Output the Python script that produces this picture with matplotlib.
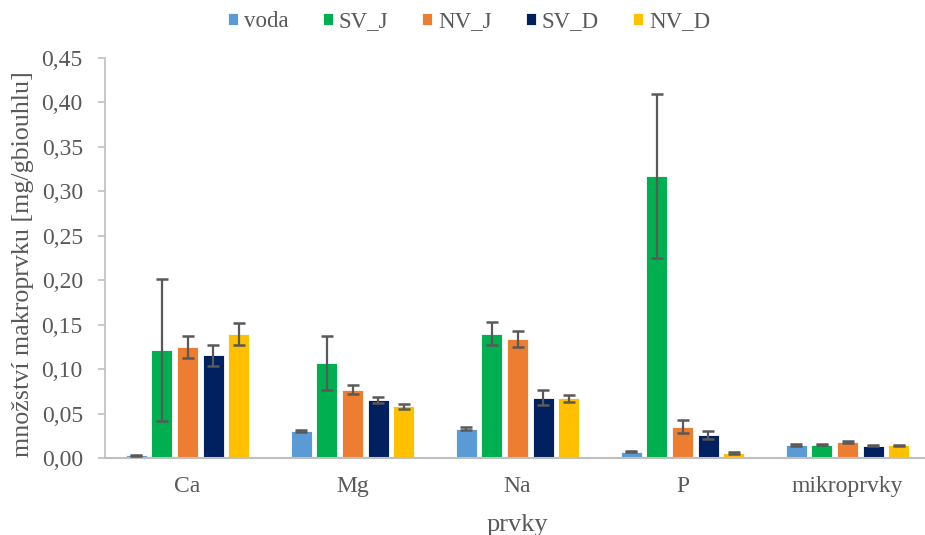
import numpy as np
import matplotlib.pyplot as plt

plt.rcParams['font.family'] = ['Liberation Serif', 'DejaVu Serif']

# data
prvky = ['Ca', 'Mg', 'Na', 'P', 'mikroprvky']
serie = ['voda', 'SV_J', 'NV_J', 'SV_D', 'NV_D']
barvy = ['#5B9BD5', '#00B050', '#ED7D31', '#002060', '#FFC000']

voda = [0.003, 0.0307, 0.033, 0.0071, 0.0146]
sv_j = [0.1215, 0.107, 0.140, 0.317, 0.0150]
nv_j = [0.1245, 0.0769, 0.134, 0.0352, 0.0180]
sv_d = [0.1155, 0.0649, 0.068, 0.0259, 0.0138]
nv_d = [0.1395, 0.0581, 0.067, 0.0056, 0.0143]

err_voda = [0.0006, 0.0010, 0.0020, 0.0008, 0.0006]
err_sv_j = [0.0800, 0.0300, 0.0130, 0.0920, 0.0006]
err_nv_j = [0.0122, 0.0049, 0.0090, 0.0075, 0.0007]
err_sv_d = [0.0116, 0.0034, 0.0080, 0.0041, 0.0006]
err_nv_d = [0.0127, 0.0030, 0.0040, 0.0006, 0.0006]

hodnoty = [voda, sv_j, nv_j, sv_d, nv_d]
chyby = [err_voda, err_sv_j, err_nv_j, err_sv_d, err_nv_d]

fig = plt.figure(figsize=(9.25, 5.35), dpi=100)
ax = fig.add_axes([105/925, 1-458/535, 825/925, 400/535])

x = np.arange(len(prvky))
krok = 0.155
sirka = 0.128
for i in range(len(serie)):
    pos = x + (i - 2) * krok
    ax.bar(pos, hodnoty[i], sirka, color=barvy[i], edgecolor='white', linewidth=0.6,
           label=serie[i], zorder=2)
    ax.errorbar(pos, hodnoty[i], yerr=chyby[i], fmt='none', ecolor='#595959',
                elinewidth=1.6, capsize=4.2, capthick=1.8, zorder=3)

ax.set_xlim(-0.5, len(prvky) - 0.5)
ax.set_ylim(0, 0.45)
ax.set_yticks(np.arange(0, 0.451, 0.05))
ax.set_yticklabels([f'{v:.2f}'.replace('.', ',') for v in np.arange(0, 0.451, 0.05)])
ax.set_xticks(x)
ax.set_xticklabels(prvky)
ax.tick_params(axis='x', length=0, pad=13, labelsize=17, colors='#595959')
ax.tick_params(axis='y', length=5, width=1.2, color='#BFBFBF', labelsize=17,
               labelcolor='#595959', pad=11)

for s in ['top', 'right']:
    ax.spines[s].set_visible(False)
ax.spines['left'].set_color('#BFBFBF')
ax.spines['bottom'].set_color('#BFBFBF')
ax.spines['left'].set_linewidth(1.2)
ax.spines['bottom'].set_linewidth(1.5)

fig.text(23/925, 1-264/535, 'množství makroprvku [mg/gbiouhlu]', rotation=90,
         ha='center', va='center', fontsize=18.7, color='#595959')
fig.text(517/925, 1-531/535, 'prvky', ha='center', va='baseline', fontsize=19,
         color='#595959')

leg = fig.legend(loc='center', bbox_to_anchor=(469/925, 1-22/535), ncol=5,
                 frameon=False, fontsize=16.5, handlelength=0.44, handleheight=0.44,
                 handletextpad=0.25, columnspacing=1.5)
for t in leg.get_texts():
    t.set_color('#595959')

fig.savefig('out.png', dpi=100)
